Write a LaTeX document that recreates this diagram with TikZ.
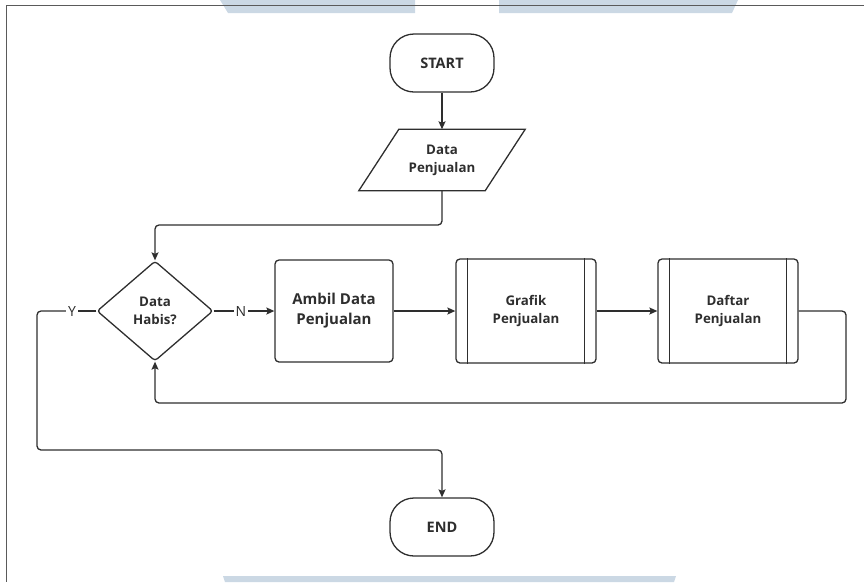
\documentclass[tikz,border=0pt]{standalone}
\usepackage{fontspec}
\setmainfont{Open Sans}
\usetikzlibrary{shapes.geometric,arrows.meta,calc}
\definecolor{ink}{HTML}{2E2E2E}
\definecolor{wm}{HTML}{CBD8E4}
\definecolor{framec}{HTML}{5A5A5A}
\begin{document}
\begin{tikzpicture}[x=1pt,y=-1pt,
  line/.style={draw=ink,line width=1.3pt},
  flow/.style={line,-{Stealth[length=8pt,width=7pt,inset=1.5pt]},rounded corners=4pt},
  txt/.style={font=\fontsize{13.3}{18}\selectfont\bfseries,text=ink,align=center},
  terminal/.style={line,txt,font=\fontsize{14.5}{18}\selectfont\bfseries,rounded corners=24pt,minimum width=104pt,minimum height=58pt},
  process/.style={line,txt,font=\fontsize{15}{20}\selectfont\bfseries,rounded corners=4pt,minimum width=118pt,minimum height=102pt},
  subproc/.style={line,txt,rounded corners=4pt,minimum width=140pt,minimum height=104pt},
  decision/.style={line,txt,diamond,rounded corners=3pt,inner sep=0pt,minimum width=116pt,minimum height=100pt},
  lbl/.style={font=\fontsize{14}{16}\selectfont,text=ink,fill=white,inner sep=2pt}]
\useasboundingbox (0,0) rectangle (864,582);
% watermark bands
\fill[wm] (220,0) -- (415,0) -- (415,13) -- (228,13) -- cycle;
\fill[wm] (499,0) -- (738,0) -- (732,13) -- (499,13) -- cycle;
\fill[wm] (223,576) -- (676,576) -- (674,582) -- (225,582) -- cycle;
% frame
\draw[framec,line width=1pt] (864,5.5) -- (6.5,5.5) -- (6.5,582);
% nodes
\node[terminal] (start) at (442,63) {START};
\node[txt,minimum width=126pt,minimum height=61pt] (data) at (442,160) {Data\\Penjualan};
\draw[line,line join=miter] ($(data.south west)+(-20pt,0)$) -- ($(data.south east)+(-20pt,0)$)
  -- ($(data.north east)+(20pt,0)$) -- ($(data.north west)+(20pt,0)$) -- cycle;
\node[decision] (dec) at (155,311) {Data\\Habis?};
\node[process] (ambil) at (334,311) {Ambil Data\\Penjualan};
\node[subproc] (graf) at (526,311) {Grafik\\Penjualan};
\node[subproc] (daft) at (728,311) {Daftar\\Penjualan};
\foreach \n in {graf,daft}{
  \draw[line] ($(\n.north west)+(12pt,0)$) -- ($(\n.south west)+(12pt,0)$);
  \draw[line] ($(\n.north east)+(-12pt,0)$) -- ($(\n.south east)+(-12pt,0)$);
}
\node[terminal] (end) at (442,527) {END};
\node[lbl] (ylab) at (72,311) {Y};
\node[lbl] (nlab) at (241,311) {N};
\coordinate (dataturn) at (442,225);
\coordinate (ybend) at (37,450);
\coordinate (loop) at (846,403);
% connectors
\draw[flow] (start) -- (data);
\draw[flow] (data.south) -- (dataturn) -| (dec.north);
\draw[line] (dec.west) -- (ylab.east);
\draw[flow] (ylab.west) -| (ybend) -| (end.north);
\draw[line] (dec.east) -- (nlab.west);
\draw[flow] (nlab.east) -- (ambil.west);
\draw[flow] (ambil.east) -- (graf.west);
\draw[flow] (graf.east) -- (daft.west);
\draw[flow] (daft.east) -| (loop) -| (dec.south);
\end{tikzpicture}
\end{document}
